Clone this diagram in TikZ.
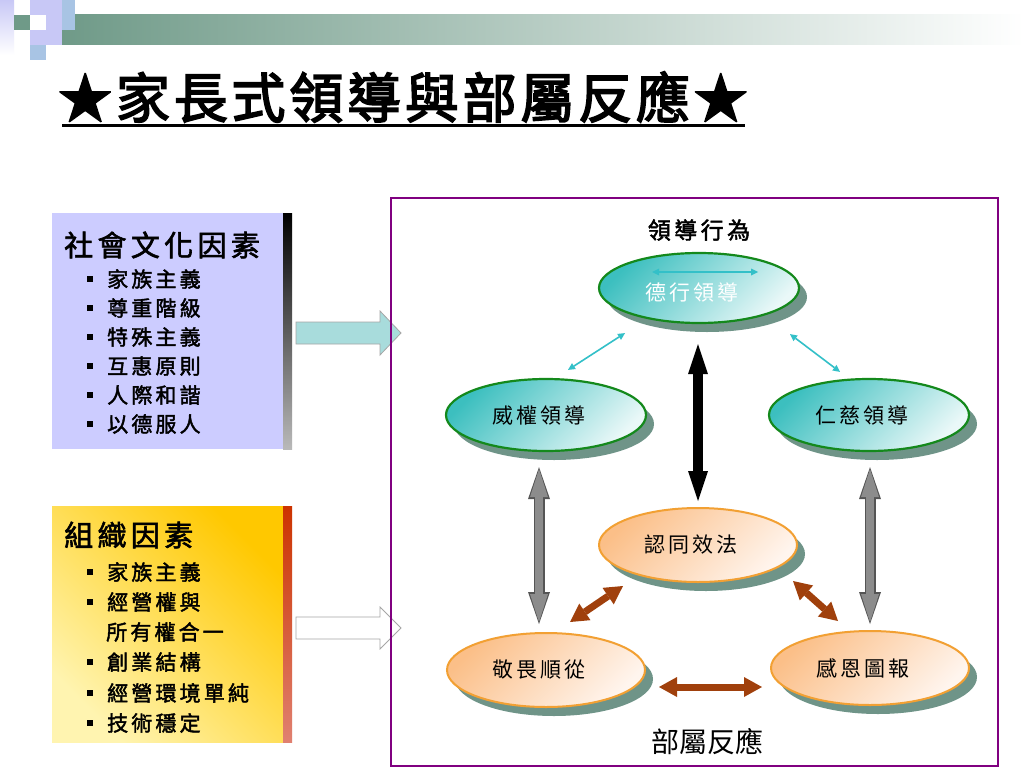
\documentclass[tikz,border=0pt]{standalone}
\usepackage{fontspec}
\newfontfamily\cjkB[FakeBold=2,LetterSpace=15]{Noto Sans CJK TC}
\newfontfamily\cjkT[FakeBold=3,LetterSpace=7]{Noto Sans CJK TC}
\newfontfamily\cjkR[LetterSpace=15]{Noto Sans CJK TC}
\newfontfamily\cjkN{Noto Sans CJK TC}
\usetikzlibrary{arrows.meta,shapes.geometric,shadows}
\definecolor{lav}{HTML}{C8C8F6}
\definecolor{boxlav}{HTML}{CCCCFF}
\definecolor{barg}{HTML}{6F9A88}
\definecolor{lblue}{HTML}{A8C4E4}
\definecolor{teal1}{HTML}{3CBFBF}
\definecolor{teal2}{HTML}{EAF8F8}
\definecolor{ellgreen}{HTML}{14891C}
\definecolor{shadowc}{HTML}{6F9488}
\definecolor{peach1}{HTML}{FBBF88}
\definecolor{peach2}{HTML}{FFF5EE}
\definecolor{orline}{HTML}{F2A033}
\definecolor{brownc}{HTML}{A0400C}
\definecolor{framec}{HTML}{800080}
\definecolor{cyanc}{HTML}{33C0C8}
\definecolor{yel1}{HTML}{FFC800}
\definecolor{yel2}{HTML}{FFF4B0}
\definecolor{red1}{HTML}{CC3300}
\definecolor{red2}{HTML}{E08070}
\definecolor{arrteal}{HTML}{A8DCDC}
\definecolor{gray4}{HTML}{555555}
\definecolor{gray8}{HTML}{8C8C8C}
\begin{document}
\begin{tikzpicture}[x=1pt,y=-1pt,
  greenell/.style={ellipse, draw=ellgreen, line width=2.2pt, left color=teal1, right color=teal2, shading angle=45,
    minimum width=200pt, minimum height=72pt, inner sep=0pt,
    drop shadow={shadow xshift=8pt, shadow yshift=-9pt, opacity=1, fill=shadowc}},
  orangeell/.style={ellipse, draw=orline, line width=2pt, left color=peach1, right color=peach2, shading angle=45,
    minimum width=198pt, minimum height=74pt, inner sep=0pt,
    drop shadow={shadow xshift=8pt, shadow yshift=-9pt, opacity=1, fill=shadowc}},
  elltext/.style={font=\fontsize{21}{24}\cjkR, xshift=-7pt},
  boxtitle/.style={anchor=west, inner sep=0pt, font=\fontsize{29}{32}\cjkB},
  item/.style={anchor=west, inner sep=0pt, font=\fontsize{21}{24}\cjkB},
  cyanarr/.style={draw=cyanc, line width=1.6pt, {Triangle[width=7pt,length=7pt,line width=0pt]}-{Triangle[width=7pt,length=7pt,line width=0pt]}},
  brownarr/.style={draw=brownc, line width=7pt, {Triangle[width=20pt,length=18pt,line width=0pt]}-{Triangle[width=20pt,length=18pt,line width=0pt]}},
  blackarr/.style={draw=black, line width=10pt, {Triangle[width=20pt,length=30pt,line width=0pt]}-{Triangle[width=20pt,length=30pt,line width=0pt]}},
  grayout/.style={draw=gray4, line width=11pt, {Triangle[width=22pt,length=32pt,line width=0pt]}-{Triangle[width=22pt,length=32pt,line width=0pt]}},
  grayin/.style={draw=gray8, line width=8pt, {Triangle[width=18pt,length=28pt,line width=0pt]}-{Triangle[width=18pt,length=28pt,line width=0pt]}},
  blockarr/.style={draw=gray!70, line width=0.8pt}
]
\useasboundingbox (0,0) rectangle (1024,768);
\fill[white] (0,0) rectangle (1024,768);

% top decoration
\shade[left color=barg, right color=white] (60,15) rectangle (1024,45);
\shade[top color=lav, bottom color=white] (0,0) rectangle (14,55);
\fill[barg] (14,15) rectangle (30,30);
\fill[lav] (30,0) rectangle (62,15);
\fill[lav] (46,15) rectangle (62,45);
\fill[lblue] (62,0) rectangle (75,30);
\fill[lav] (30,30) rectangle (46,45);
\fill[lblue] (30,45) rectangle (46,60);

% title
\node[inner sep=0pt, font=\fontsize{54}{60}\cjkT] (title) at (403,97) {★家長式領導與部屬反應★};
\draw[line width=3pt] (62,125) -- (745,125);

% left box 1
\fill[boxlav] (52,213) rectangle (283,449);
\shade[top color=black, bottom color=gray!55] (283,213) rectangle (292,449);
\node[boxtitle] (t1) at (64,245) {社會文化因素};
\node[item] (a1) at (87,279) {\rule[5pt]{6pt}{6pt}\hspace{14pt}家族主義};
\node[item] (a2) at (87,308) {\rule[5pt]{6pt}{6pt}\hspace{14pt}尊重階級};
\node[item] (a3) at (87,337) {\rule[5pt]{6pt}{6pt}\hspace{14pt}特殊主義};
\node[item] (a4) at (87,366) {\rule[5pt]{6pt}{6pt}\hspace{14pt}互惠原則};
\node[item] (a5) at (87,395) {\rule[5pt]{6pt}{6pt}\hspace{14pt}人際和諧};
\node[item] (a6) at (87,424) {\rule[5pt]{6pt}{6pt}\hspace{14pt}以德服人};

% left box 2
\shade[left color=yel1, right color=yel2, shading angle=-45] (52,506) rectangle (283,742);
\shade[top color=red1, bottom color=red2] (283,506) rectangle (292,742);
\node[boxtitle] (t2) at (64,535) {組織因素};
\node[item] (b1) at (87,572) {\rule[5pt]{6pt}{6pt}\hspace{14pt}家族主義};
\node[item] (b2) at (87,602) {\rule[5pt]{6pt}{6pt}\hspace{14pt}經營權與};
\node[item] (b2b) at (106,632) {所有權合一};
\node[item] (b3) at (87,662) {\rule[5pt]{6pt}{6pt}\hspace{14pt}創業結構};
\node[item] (b4) at (87,693) {\rule[5pt]{6pt}{6pt}\hspace{14pt}經營環境單純};
\node[item] (b5) at (87,723) {\rule[5pt]{6pt}{6pt}\hspace{14pt}技術穩定};

% block arrows
\draw[blockarr, fill=arrteal] (296,322) -- (380,322) -- (380,311) -- (401,333) -- (380,355) -- (380,344) -- (296,344) -- cycle;
\draw[blockarr, fill=white] (296,617) -- (380,617) -- (380,607) -- (401,628) -- (380,649) -- (380,639) -- (296,639) -- cycle;

% frame
\draw[framec, line width=2.5pt] (391,198) rectangle (998,766);

% headings
\node[inner sep=0pt, font=\fontsize{23}{26}\cjkB] (lead) at (699,230) {領導行為};
\node[inner sep=0pt, font=\fontsize{28}{30}\cjkN] (resp) at (707,742) {部屬反應};

% ellipses
\node[greenell, minimum height=70pt, label={[elltext, text=white, yshift=-4pt]center:德行領導}] (D) at (699,288) {};
\node[greenell, label={[elltext]center:威權領導}] (W) at (546,415) {};
\node[greenell, label={[elltext]center:仁慈領導}] (R) at (869,415) {};
\node[orangeell, label={[elltext]center:認同效法}] (T) at (698,545) {};
\node[orangeell, label={[elltext]center:敬畏順從}] (J) at (546,670) {};
\node[orangeell, label={[elltext]center:感恩圖報}] (G) at (870,668) {};

% connectors
\draw[cyanarr] ([xshift=-47pt,yshift=16pt]D.center) -- ([xshift=59pt,yshift=16pt]D.center);
\draw[cyanarr] ([xshift=-74pt,yshift=-9pt]D.south) -- ([xshift=22pt,yshift=8pt]W.north);
\draw[cyanarr] ([xshift=91pt,yshift=-10pt]D.south) -- ([xshift=-29pt,yshift=6pt]R.north);
\draw[blackarr] ([xshift=-1pt,yshift=-20pt]D.south) -- ([yshift=6pt]T.north);
\draw[grayout] ([xshift=-7pt,yshift=-15pt]W.south) -- ([xshift=-7pt,yshift=8pt]J.north);
\draw[grayin] ([xshift=-7pt,yshift=-17pt]W.south) -- ([xshift=-7pt,yshift=10pt]J.north);
\draw[grayout] ([xshift=1pt,yshift=-15pt]R.south) -- ([yshift=6pt]G.north);
\draw[grayin] ([xshift=1pt,yshift=-17pt]R.south) -- ([yshift=8pt]G.north);
\draw[brownarr] ([xshift=24pt,yshift=10pt]J.north) -- ([xshift=-75pt,yshift=-3pt]T.south);
\draw[brownarr] ([xshift=95pt,yshift=2pt]T.south) -- ([xshift=-32pt,yshift=9pt]G.north);
\draw[brownarr] ([xshift=13pt,yshift=-17pt]J.east) -- ([xshift=-8pt,yshift=-19pt]G.west);
\end{tikzpicture}
\end{document}
